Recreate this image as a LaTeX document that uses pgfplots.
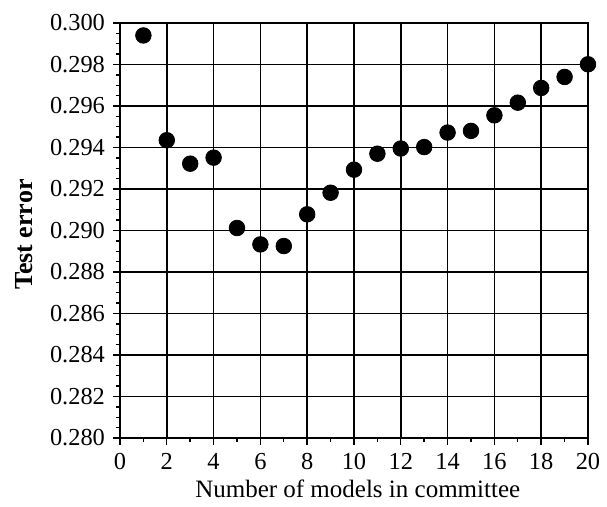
\documentclass[border=0pt]{standalone}
\usepackage{pgfplots}
\pgfplotsset{compat=1.18}
\usepackage{fontspec}
\setmainfont{Liberation Serif}

\begin{document}
\begin{tikzpicture}
\begin{axis}[
  at={(0,0)}, anchor=south west,
  scale only axis, width=234pt, height=207.5pt,
  xmin=0, xmax=20, ymin=0.280, ymax=0.300,
  xtick={0,2,4,6,8,10,12,14,16,18,20},
  minor xtick={1,3,5,7,9,11,13,15,17,19},
  ytick={0.280,0.282,0.284,0.286,0.288,0.290,0.292,0.294,0.296,0.298,0.300},
  minor y tick num=3,
  tick pos=left, tick align=outside,
  major tick length=3.5pt, minor tick length=2pt,
  tick style={black, line width=0.7pt},
  grid=major,
  major grid style={black, line width=0.75pt},
  axis line style={black, line width=0.9pt},
  scaled y ticks=false,
  /pgf/number format/assume math mode=true,
  ticklabel style={font=\fontsize{12.2}{14}\selectfont},
  xticklabel style={yshift=-0.5pt},
  yticklabel style={xshift=-0.5pt, /pgf/number format/.cd, fixed, fixed zerofill, precision=3},
  xlabel={Number of models in committee},
  ylabel={\textbf{Test error}},
  every axis x label/.style={at={(axis description cs:0.508,0)}, anchor=base, yshift=-30pt, font=\fontsize{12.5}{14}\selectfont},
  every axis y label/.style={at={(axis description cs:-0.205,0.49)}, rotate=90, anchor=center, font=\fontsize{13}{15}\selectfont},
]
\addplot[only marks, mark=*, mark size=3.9pt, black] coordinates {
  (1,0.29940) (2,0.29435) (3,0.29322) (4,0.29351) (5,0.29012)
  (6,0.28933) (7,0.28925) (8,0.29078) (9,0.29182) (10,0.29293)
  (11,0.29370) (12,0.29395) (13,0.29402) (14,0.29472) (15,0.29480)
  (16,0.29555) (17,0.29616) (18,0.29687) (19,0.29740) (20,0.29801)
};
\end{axis}
\pgfresetboundingbox
\path[use as bounding box] (-60pt,-34.5pt) rectangle (243.5pt,219pt);
\end{tikzpicture}
\end{document}
